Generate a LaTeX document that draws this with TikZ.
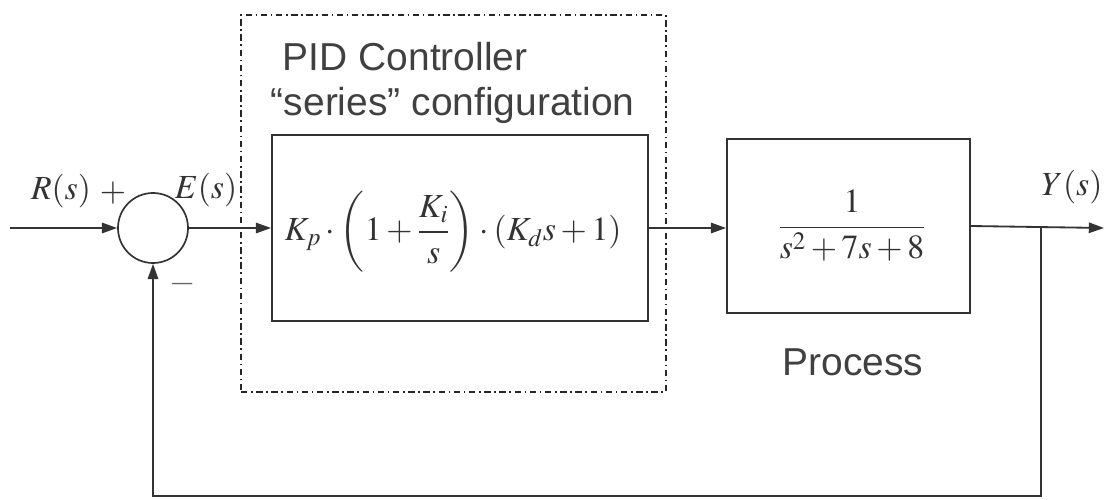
\documentclass[tikz,border=0pt]{standalone}
\usepackage{mathptmx}
\usepackage{fontspec}
\setsansfont{Liberation Sans}
\usepackage{tikz}
\usetikzlibrary{arrows.meta,positioning,calc}

\begin{document}
\begin{tikzpicture}[
    x=0.025cm, y=-0.025cm,
    >={Triangle[length=0.38cm,width=0.26cm]},
    line width=1.3pt, draw=black!80,
    blk/.style={rectangle, draw=black!80, line width=1.3pt, inner sep=0pt},
    sumnode/.style={circle, draw=black!80, line width=1.2pt, minimum size=1.75cm, inner sep=0pt},
    sig/.style={->, draw=black!80, line width=1.3pt},
    frame/.style={rectangle, draw=black!85, line width=1.1pt, inner sep=0pt,
      dash pattern=on 0.16cm off 0.09cm on 0.04cm off 0.09cm},
    mth/.style={font=\fontsize{24}{28}\selectfont, text=black!80, inner sep=0pt},
    txt/.style={font=\sffamily\fontsize{27.7}{33}\selectfont, text=black!75, inner sep=0pt}
  ]
  \path[use as bounding box] (0,0) rectangle (1106,500);

  % controller frame and blocks
  \node[frame, minimum width=10.625cm, minimum height=9.425cm] (ctrl) at (453.5,203.5) {};
  \node[txt, anchor=base west] (ctrltitle) at (282,70) {PID Controller};
  \node[txt, anchor=base west] (ctrlsub) at (270,115) {``series'' configuration};
  \node[sumnode] (sum) at (153,228) {};
  \node[blk, minimum width=9.4cm, minimum height=4.65cm] (pid) at (460,228) {};
  \node[mth] (pidtf) at (453,232) {$\displaystyle K_p\cdot\left(1+\frac{K_i}{s}\right)\cdot\left(K_d s+1\right)$};
  \node[blk, minimum width=6.075cm, minimum height=4.35cm] (proc) at (848.5,226) {};
  \node[mth] (proctf) at (852,226) {$\displaystyle\frac{1}{s^2+7s+8}$};
  \node[txt, anchor=base] (proclbl) at (853,375) {Process};

  % signal labels
  \node[mth, anchor=base] (rlbl) at (61,199) {$R(s)$};
  \node[mth, anchor=base] (plus) at (113,201) {$+$};
  \node[mth, anchor=base] (elbl) at (206,198) {$E(s)$};
  \node[mth, text=black!60] (minus) at (183,284) {$-$};
  \node[mth, anchor=base] (ylbl) at (1072,195) {$Y(s)$};

  \coordinate (in) at (10,228);
  \coordinate (out) at (1104,228);
  \coordinate (branch) at (1041,228);
  \coordinate (fbk) at (1041,496);

  % forward path
  \draw[sig] (in) -- (sum.west);
  \draw[sig] (sum.east) -- (sum.east -| pid.west);
  \draw[sig] (pid.east) -- (pid.east -| proc.west);
  \draw[sig] (proc.east) -- (out);
  % unity feedback
  \draw[sig] (branch) -- (fbk) -| (sum.south);
\end{tikzpicture}
\end{document}
